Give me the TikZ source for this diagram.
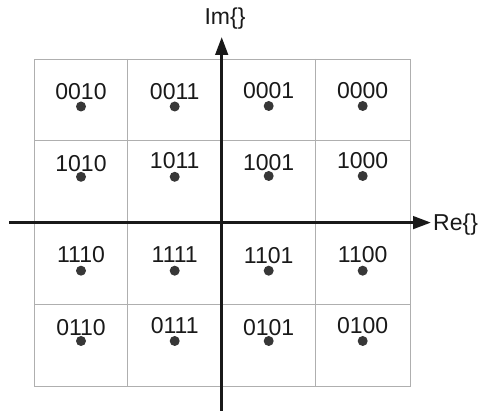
\documentclass[tikz,border=0pt]{standalone}
\usepackage{fontspec}
\setmainfont{Liberation Sans}
\usetikzlibrary{arrows.meta}
\definecolor{gridgray}{RGB}{175,175,175}
\definecolor{dotgray}{RGB}{55,55,55}
\definecolor{ink}{RGB}{25,25,25}
\begin{document}
\begin{tikzpicture}[x=1pt,y=-1pt,
  cell/.style={draw=gridgray,line width=0.9pt},
  symdot/.style={circle,fill=dotgray,inner sep=0pt,minimum size=10pt},
  code/.style={font=\fontsize{23}{27}\selectfont,text=ink,inner sep=0pt},
  axisline/.style={line width=3pt,draw=ink,-{Triangle[length=18pt,width=12.5pt]}}]
\useasboundingbox[fill=white] (0,0) rectangle (480,411);

% 4x4 grid of decision cells
\draw[cell] (34,59) rectangle (410,386.7);
\foreach \gx in {127.8,221.7,315.8}
  \draw[cell] (\gx,59) -- (\gx,386.7);
\foreach \gy in {140.9,222.8,304.8}
  \draw[cell] (34,\gy) -- (410,\gy);

% constellation points: name / x / dot y / label y / bits
\foreach \nm/\px/\py/\ty/\bits in {
  a/81/106.5/91.7/0010, b/174.7/106.5/91.7/0011, c/268.7/106/90.7/0001, d/362.7/106/90.7/0000,
  e/81/176.8/163.3/1010, f/174.7/176.8/161/1011, g/268.7/176/162.7/1001, h/362.7/176/161/1000,
  i/81/270.7/255/1110, j/174.7/270.7/255/1111, k/268.7/270.7/255.3/1101, l/362.7/270.7/255/1100,
  m/81/341/327.3/0110, n/174.7/341/325.7/0111, o/268.7/341/327.5/0101, p/362.7/341/325.7/0100}
{
  \node[symdot] (dot-\nm) at (\px,\py) {};
  \node[code] (lbl-\nm) at (\px,\ty) {\bits};
}

% axes
\coordinate (xl) at (9,222.6);
\coordinate (xr) at (431,222.6);
\coordinate (yb) at (221.7,411);
\coordinate (yt) at (221.7,37);
\draw[axisline] (xl) -- (xr);
\draw[axisline] (yb) -- (yt);

\node[code,anchor=base] (im) at (225,25) {Im\{\}};
\node[code,anchor=base west] (re) at (433,230.7) {Re\{\}};
\end{tikzpicture}
\end{document}
